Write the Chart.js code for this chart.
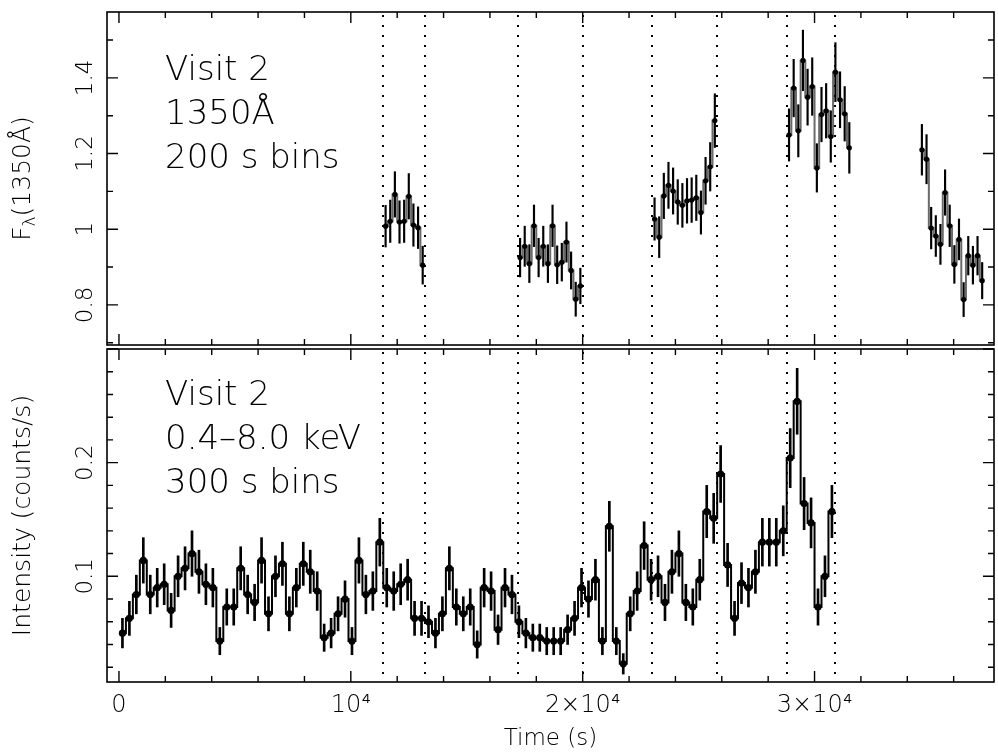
<!DOCTYPE html>
<html>
<head>
<meta charset="utf-8">
<script src="https://cdn.jsdelivr.net/npm/chart.js@4.4.1/dist/chart.umd.min.js"></script>
<style>
  body { margin: 0; background: #fff; }
  #wrap { position: relative; width: 998px; height: 755px; }
  #topChart { position: absolute; left: 0; top: 0; }
  #botChart { position: absolute; left: 0; top: 345px; }
</style>
</head>
<body>
<div id="wrap">
  <canvas id="topChart" width="998" height="350"></canvas>
  <canvas id="botChart" width="998" height="410"></canvas>
</div>
<script>
// time axis (s)
const timeMin = -516;
const timeMax = 37740;
const timeTicks = [0, 10000, 20000, 30000];
const timeLabels = ['0', '10\u2074', '2\u00d710\u2074', '3\u00d710\u2074'];

// dotted lines: overlap intervals
const gtiEdges = [11400, 13200, 17200, 20000, 23000, 25800, 28800, 30900];

// UV 1350A light curve, 200 s bins, one list per orbit
const uvBin = 200;
const uvFirst = [11500, 17300, 23100, 28900, 34630];
const uvFlux = [
  [1.008, 1.021, 1.092, 1.019, 1.021, 1.087, 1.011, 1.004, 0.905],
  [0.925, 0.955, 0.909, 1.009, 0.925, 0.955, 0.909, 1.009, 0.906, 0.913, 0.966, 0.891, 0.815, 0.850],
  [1.027, 0.979, 1.088, 1.116, 1.101, 1.072, 1.063, 1.075, 1.077, 1.083, 1.044, 1.128, 1.165, 1.287],
  [1.249, 1.373, 1.260, 1.446, 1.349, 1.377, 1.162, 1.303, 1.313, 1.245, 1.415, 1.342, 1.305, 1.215],
  [1.210, 1.185, 1.003, 0.982, 0.960, 1.097, 1.009, 0.907, 0.973, 0.814, 0.930, 0.905, 0.930, 0.864]
];
const uvErr = [
  [0.055, 0.056, 0.060, 0.056, 0.056, 0.060, 0.056, 0.055, 0.050],
  [0.051, 0.053, 0.050, 0.055, 0.051, 0.053, 0.050, 0.055, 0.050, 0.050, 0.053, 0.049, 0.045, 0.047],
  [0.056, 0.054, 0.060, 0.061, 0.061, 0.059, 0.058, 0.059, 0.059, 0.060, 0.057, 0.062, 0.064, 0.071],
  [0.069, 0.076, 0.069, 0.080, 0.074, 0.076, 0.064, 0.072, 0.072, 0.068, 0.078, 0.074, 0.072, 0.067],
  [0.067, 0.065, 0.055, 0.054, 0.053, 0.060, 0.055, 0.050, 0.054, 0.045, 0.051, 0.050, 0.051, 0.048]
];

// X-ray 0.4-8.0 keV light curve, 300 s bins
const xrBin = 300;
const xrFirst = 150;
const xrRate = [
  0.050, 0.063, 0.084, 0.114, 0.084, 0.090, 0.093, 0.070, 0.100, 0.107,
  0.120, 0.104, 0.093, 0.090, 0.043, 0.073, 0.073, 0.107, 0.084, 0.077,
  0.114, 0.067, 0.100, 0.111, 0.067, 0.090, 0.111, 0.104, 0.087, 0.046,
  0.050, 0.067, 0.080, 0.043, 0.114, 0.084, 0.087, 0.130, 0.090, 0.087,
  0.093, 0.097, 0.063, 0.063, 0.060, 0.050, 0.067, 0.107, 0.073, 0.067,
  0.073, 0.040, 0.090, 0.087, 0.053, 0.090, 0.084, 0.060, 0.050, 0.046,
  0.046, 0.043, 0.043, 0.043, 0.053, 0.063, 0.090, 0.080, 0.097, 0.043,
  0.144, 0.043, 0.023, 0.067, 0.087, 0.127, 0.097, 0.100, 0.077, 0.104,
  0.120, 0.077, 0.073, 0.097, 0.157, 0.151, 0.190, 0.110, 0.063, 0.094,
  0.090, 0.104, 0.130, 0.130, 0.130, 0.140, 0.204, 0.254, 0.164, 0.147,
  0.073, 0.100, 0.157
];
const xrErr = [
  0.013, 0.015, 0.017, 0.020, 0.017, 0.017, 0.018, 0.015, 0.018, 0.019,
  0.020, 0.019, 0.018, 0.017, 0.012, 0.016, 0.016, 0.019, 0.017, 0.016,
  0.020, 0.015, 0.018, 0.019, 0.015, 0.017, 0.019, 0.019, 0.017, 0.012,
  0.013, 0.015, 0.016, 0.012, 0.020, 0.017, 0.017, 0.021, 0.017, 0.017,
  0.018, 0.018, 0.015, 0.015, 0.014, 0.013, 0.015, 0.019, 0.016, 0.015,
  0.016, 0.012, 0.017, 0.017, 0.013, 0.017, 0.017, 0.014, 0.013, 0.012,
  0.012, 0.012, 0.012, 0.012, 0.013, 0.015, 0.017, 0.016, 0.018, 0.012,
  0.022, 0.012, 0.009, 0.015, 0.017, 0.021, 0.018, 0.018, 0.016, 0.019,
  0.020, 0.016, 0.016, 0.018, 0.023, 0.022, 0.025, 0.019, 0.015, 0.018,
  0.017, 0.019, 0.021, 0.021, 0.021, 0.022, 0.026, 0.029, 0.023, 0.022,
  0.016, 0.018, 0.023
];

const FONT = "'DejaVu Sans'";
const W = '200 ';   // thin strokes, like the PGPLOT font
Chart.defaults.font.family = FONT;
Chart.defaults.font.weight = 200;
Chart.defaults.color = '#000';

// ---- build datasets ----
const uvPts = [], uvBars = [], uvLine = [];
uvFlux.forEach((seg, s) => {
  seg.forEach((v, k) => {
    const t = uvFirst[s] + k * uvBin;
    uvPts.push({ x: t, y: v });
    uvBars.push({ x: t, y: [v - uvErr[s][k], v + uvErr[s][k]] });
    uvLine.push({ x: t, y: v });
  });
  uvLine.push({ x: uvFirst[s] + seg.length * uvBin, y: null });
});

const xrPts = [], xrBars = [];
xrRate.forEach((v, i) => {
  const t = xrFirst + i * xrBin;
  xrPts.push({ x: t, y: v });
  xrBars.push({ x: t, y: [v - xrErr[i], v + xrErr[i]] });
});

// ---- PGPLOT-like frame, inward ticks, rotated labels ----
function drawTicks(ctx, scale, area, minor, major, horiz) {
  const first = Math.ceil(scale.min / minor - 1e-9);
  const last = Math.floor(scale.max / minor + 1e-9);
  for (let k = first; k <= last; k++) {
    const v = k * minor;
    const isMajor = Math.abs(v / major - Math.round(v / major)) < 1e-6;
    const len = isMajor ? 11 : 6;
    const p = scale.getPixelForValue(v);
    ctx.beginPath();
    if (horiz) {
      ctx.moveTo(p, area.bottom); ctx.lineTo(p, area.bottom - len);
      ctx.moveTo(p, area.top); ctx.lineTo(p, area.top + len);
    } else {
      ctx.moveTo(area.left, p); ctx.lineTo(area.left + len, p);
      ctx.moveTo(area.right, p); ctx.lineTo(area.right - len, p);
    }
    ctx.stroke();
  }
}

function rotText(ctx, parts, x, y) {
  // parts: [{t, size, dy}] drawn bottom-to-top, centred on (x, y)
  ctx.save();
  ctx.translate(x, y);
  ctx.rotate(-Math.PI / 2);
  let total = 0;
  parts.forEach(p => { ctx.font = W + p.size + 'px ' + FONT; total += ctx.measureText(p.t).width; });
  let cx = -total / 2;
  ctx.textAlign = 'left';
  ctx.textBaseline = 'middle';
  parts.forEach(p => {
    ctx.font = W + p.size + 'px ' + FONT;
    ctx.fillText(p.t, cx, p.dy || 0);
    cx += ctx.measureText(p.t).width;
  });
  ctx.restore();
}

const pgFrame = {
  id: 'pgFrame',
  beforeDatasetsDraw(chart, args, o) {
    const ctx = chart.ctx, a = chart.chartArea, xs = chart.scales.x;
    ctx.save();
    ctx.strokeStyle = '#000';
    ctx.lineWidth = 2;
    ctx.setLineDash([2, 8]);
    gtiEdges.forEach(t => {
      const p = Math.round(xs.getPixelForValue(t));
      ctx.beginPath();
      ctx.moveTo(p, a.top + 3);
      ctx.lineTo(p, a.bottom);
      ctx.stroke();
    });
    ctx.restore();
  },
  afterDraw(chart, args, o) {
    const ctx = chart.ctx, a = chart.chartArea;
    const xs = chart.scales.x, ys = chart.scales.y;
    ctx.save();
    ctx.strokeStyle = '#000';
    ctx.lineWidth = 1.6;
    ctx.strokeRect(a.left, a.top, a.right - a.left, a.bottom - a.top);
    ctx.lineWidth = 1.4;
    drawTicks(ctx, xs, a, 2000, 10000, true);
    drawTicks(ctx, ys, a, o.yMinor, o.yMajor, false);
    ctx.fillStyle = '#000';
    ys.ticks.forEach(tk => {
      const p = ys.getPixelForValue(tk.value);
      if (p < a.top + 8 || p > a.bottom - 8) return;
      const lbl = String(Math.round(tk.value * 10) / 10);
      rotText(ctx, [{ t: lbl, size: 23 }], 86, p);
    });
    rotText(ctx, o.yTitle, 23, (a.top + a.bottom) / 2);
    ctx.font = W + '34px ' + FONT;
    ctx.textAlign = 'left';
    ctx.textBaseline = 'middle';
    o.notes.forEach((txt, i) => ctx.fillText(txt, 165, o.noteY + i * 44));
    ctx.restore();
  }
};

function baseScales(yMin, yMax, yStep, xVisible) {
  return {
    x: {
      type: 'linear', min: timeMin, max: timeMax, offset: false,
      display: xVisible,
      grid: { display: false, drawTicks: false, offset: false },
      border: { display: false },
      afterBuildTicks: s => { s.ticks = timeTicks.map(v => ({ value: v })); },
      ticks: {
        autoSkip: false, maxRotation: 0, padding: 9,
        font: { size: 24, weight: 200 },
        callback: v => timeLabels[timeTicks.indexOf(v)]
      },
      title: { display: true, text: 'Time (s)', font: { size: 23, weight: 200 }, padding: { top: 0, bottom: 2 } },
      afterFit: s => { s.height = xVisible ? 73 : 0; }
    },
    y: {
      type: 'linear', min: yMin, max: yMax,
      grid: { display: false, drawTicks: false },
      border: { display: false },
      ticks: { display: false, stepSize: yStep, includeBounds: false },
      afterFit: s => { s.width = 107; }
    }
  };
}

function makeChart(id, pts, bars, line, opt) {
  return new Chart(document.getElementById(id), {
    type: 'scatter',
    data: {
      datasets: [
        { type: 'scatter', data: pts, order: 0, pointRadius: opt.r, pointBackgroundColor: '#000', pointBorderWidth: 0, showLine: false },
        { type: 'bar', data: bars, order: 1, barThickness: opt.ebw, backgroundColor: '#000', borderWidth: 0, grouped: false },
        { type: 'line', data: line, order: 2, stepped: 'middle', spanGaps: false, borderColor: opt.lineColor, borderWidth: 2, pointRadius: 0, fill: false }
      ]
    },
    options: {
      responsive: false,
      animation: false,
      events: [],
      layout: { padding: opt.pad },
      scales: baseScales(opt.yMin, opt.yMax, opt.yStep, opt.xVisible),
      plugins: {
        legend: { display: false },
        tooltip: { enabled: false },
        pgFrame: opt.frame
      }
    },
    plugins: [pgFrame]
  });
}

makeChart('topChart', uvPts, uvBars, uvLine, {
  r: 2.6, ebw: 1.5, lineColor: '#6a6a6a',
  yMin: 0.694, yMax: 1.574, yStep: 0.2, xVisible: false,
  pad: { left: 0, right: 1, top: 12, bottom: 5 },
  frame: {
    yMinor: 0.1, yMajor: 0.2,
    yTitle: [{ t: 'F', size: 25 }, { t: '\u03bb', size: 17, dy: 8 }, { t: '(1350\u00c5)', size: 25 }],
    notes: ['Visit 2', '1350\u00c5', '200 s bins'], noteY: 71
  }
});

makeChart('botChart', xrPts, xrBars, xrPts, {
  r: 3.6, ebw: 2, lineColor: '#000',
  yMin: 0.007, yMax: 0.3, yStep: 0.1, xVisible: true,
  pad: { left: 0, right: 1, top: 0, bottom: 0 },
  frame: {
    yMinor: 0.02, yMajor: 0.1,
    yTitle: [{ t: 'Intensity (counts/s)', size: 25 }],
    notes: ['Visit 2', '0.4\u20138.0 keV', '300 s bins'], noteY: 51
  }
});
</script>
</body>
</html>
